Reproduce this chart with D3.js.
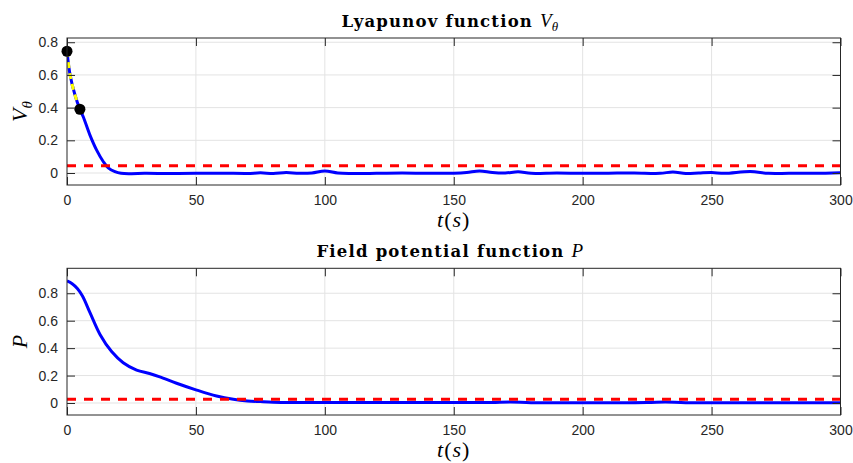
<!DOCTYPE html>
<html>
<head>
<meta charset="utf-8">
<script src="https://cdn.jsdelivr.net/npm/d3@7"></script>
<style>
  body { margin: 0; background: #fff; }
  svg { display: block; }
  .tick text { font-family: "Liberation Sans", Arial, sans-serif; font-size: 14px; fill: #262626; }
</style>
</head>
<body>
<svg id="chart" width="853" height="463"></svg>
<script>
// Lyapunov function V_theta (time in s)
var vTime = [0, 1.2, 3.1, 5, 6.3, 8.9, 11.5, 14.1, 16, 18.6, 21, 25, 30, 40, 50, 60, 70, 75, 80, 85, 90, 95, 100, 105, 110, 120, 130, 140, 150, 155, 160, 165, 170, 175, 180, 190, 200, 210, 220, 230, 235, 240, 245, 250, 255, 265, 272, 280, 290, 300];
var vValue = [0.745, 0.60, 0.477, 0.39, 0.344, 0.232, 0.14, 0.069, 0.032, 0.008, -0.002, -0.004, -0.002, -0.003, -0.002, -0.001, -0.003, 0.001, -0.003, 0.003, -0.002, 0, 0.012, 0, -0.003, -0.002, 0, -0.002, -0.001, 0.003, 0.012, 0.003, 0, 0.007, -0.002, 0, -0.002, -0.001, 0, -0.002, 0.006, -0.003, 0, 0.003, -0.002, 0.009, -0.002, -0.002, -0.002, 0.002];
var vMarked = [0, 5];          // highlighted interval (yellow, black dots)
var vThreshold = 0.045;

// Field potential function P
var pTime = [0, 2, 4, 6, 9, 12.8, 17.3, 21.8, 27, 32, 36, 42.5, 50, 58, 64.5, 70, 75, 80, 90, 100, 130, 160, 165, 172, 180, 200, 225, 232, 240, 270, 300];
var pValue = [0.89, 0.87, 0.835, 0.78, 0.655, 0.5, 0.375, 0.294, 0.24, 0.215, 0.19, 0.144, 0.096, 0.051, 0.027, 0.015, 0.01, 0.006, 0.004, 0.003, 0.003, 0.003, 0.003, 0.008, 0.002, 0.002, 0.003, 0.008, 0.002, 0.002, 0.002];
var pThreshold = 0.027;

var xTicks = [0, 50, 100, 150, 200, 250, 300];
var yTicks = [0, 0.2, 0.4, 0.6, 0.8];

var svg = d3.select("#chart");
svg.append("rect").attr("width", 853).attr("height", 463).attr("fill", "#fff");

function zip(t, v) {
    return t.map(function (d, i) { return { t: d, v: v[i] }; });
}

function panel(opt) {
    var left = 67, right = 840.5;
    var x = d3.scaleLinear().domain([0, 300]).range([left, right]);
    var y = d3.scaleLinear().domain(opt.yDomain).range([opt.bottom, opt.top]);
    var g = svg.append("g");
    var h = opt.bottom - opt.top;

    // grid
    g.append("g").selectAll("line").data(xTicks.slice(1, -1)).enter().append("line")
        .attr("x1", x).attr("x2", x).attr("y1", opt.top).attr("y2", opt.bottom)
        .attr("stroke", "#e3e3e3").attr("stroke-width", 1);
    g.append("g").selectAll("line").data(yTicks).enter().append("line")
        .attr("x1", left).attr("x2", right).attr("y1", y).attr("y2", y)
        .attr("stroke", "#e3e3e3").attr("stroke-width", 1);

    // data
    var data = zip(opt.time, opt.value);
    var line = d3.line().x(function (d) { return x(d.t); }).y(function (d) { return y(d.v); })
        .curve(d3.curveCatmullRom);
    var clip = "clip" + opt.id;
    g.append("clipPath").attr("id", clip).append("rect")
        .attr("x", left).attr("y", opt.top).attr("width", right - left).attr("height", h);
    var plot = g.append("g").attr("clip-path", "url(#" + clip + ")");
    plot.append("path").datum(data).attr("d", line)
        .attr("fill", "none").attr("stroke", "#0000ff").attr("stroke-width", 3);
    plot.append("line")
        .attr("x1", left).attr("x2", right)
        .attr("y1", y(opt.threshold)).attr("y2", y(opt.threshold))
        .attr("stroke", "#ff0000").attr("stroke-width", 3).attr("stroke-dasharray", "9,8");
    if (opt.marked) {
        var seg = data.filter(function (d) { return d.t >= opt.marked[0] && d.t <= opt.marked[1]; });
        plot.append("path").datum(seg).attr("d", line)
            .attr("fill", "none").attr("stroke", "#ffff00").attr("stroke-width", 3)
            .attr("stroke-dasharray", "6,5");
        var ends = [seg[0], seg[seg.length - 1]];
        g.selectAll(".dot").data(ends).enter().append("circle")
            .attr("cx", function (d) { return x(d.t); }).attr("cy", function (d) { return y(d.v); })
            .attr("r", 5.5).attr("fill", "#000");
    }

    // axes (ticks inward, box)
    var ax = g.append("g").attr("transform", "translate(0," + opt.bottom + ")")
        .call(d3.axisBottom(x).tickValues(xTicks).tickSizeInner(-8).tickSizeOuter(0).tickPadding(10));
    var ax2 = g.append("g").attr("transform", "translate(0," + opt.top + ")")
        .call(d3.axisTop(x).tickValues(xTicks).tickSizeInner(-8).tickSizeOuter(0).tickFormat(""));
    var ay = g.append("g").attr("transform", "translate(" + left + ",0)")
        .call(d3.axisLeft(y).tickValues(yTicks).tickSizeInner(-8).tickSizeOuter(0).tickPadding(9)
            .tickFormat(function (d) { return d === 0 ? "0" : d3.format(".1f")(d); }));
    var ay2 = g.append("g").attr("transform", "translate(" + right + ",0)")
        .call(d3.axisRight(y).tickValues(yTicks).tickSizeInner(-8).tickSizeOuter(0).tickFormat(""));
    [ax, ax2, ay, ay2].forEach(function (a) {
        a.select(".domain").remove();
        a.selectAll(".tick line").attr("stroke", "#262626");
    });
    g.append("rect").attr("x", left).attr("y", opt.top).attr("width", right - left).attr("height", h)
        .attr("fill", "none").attr("stroke", "#262626").attr("stroke-width", 1);

    // title
    var title = g.append("text").attr("x", (left + right) / 2 - 4).attr("y", opt.top - 11)
        .attr("text-anchor", "middle")
        .attr("font-family", "'DejaVu Serif', serif")
        .attr("font-size", 16.5).attr("letter-spacing", 1.2).attr("fill", "#000");
    title.append("tspan").attr("font-weight", "bold").text(opt.title + " ");
    title.append("tspan").attr("font-style", "italic").attr("letter-spacing", 0)
        .attr("font-family", "'Liberation Serif', serif").attr("font-size", 19).text(opt.sym);
    if (opt.sub) {
        title.append("tspan").attr("font-style", "italic").attr("letter-spacing", 0)
            .attr("font-family", "'Liberation Serif', serif").attr("font-size", 13).attr("dy", 4).text(opt.sub);
    }

    // x label t(s)
    var xl = g.append("text").attr("x", (left + right) / 2).attr("y", opt.bottom + 42)
        .attr("text-anchor", "middle")
        .attr("font-family", "'Liberation Serif', 'Times New Roman', serif")
        .attr("font-size", 22).attr("letter-spacing", 1).attr("fill", "#000");
    xl.append("tspan").attr("font-style", "italic").text("t");
    xl.append("tspan").text("(");
    xl.append("tspan").attr("font-style", "italic").text("s");
    xl.append("tspan").text(")");

    // y label
    var yl = g.append("text")
        .attr("transform", "translate(27," + ((opt.top + opt.bottom) / 2) + ") rotate(-90)")
        .attr("text-anchor", "middle")
        .attr("font-family", "'Liberation Serif', 'Times New Roman', serif")
        .attr("font-size", 22).attr("fill", "#000");
    yl.append("tspan").attr("font-style", "italic").text(opt.sym);
    if (opt.sub) {
        yl.append("tspan").attr("font-style", "italic").attr("font-size", 15).attr("dy", 5).text(opt.sub);
    }
}

panel({
    id: "v", top: 38, bottom: 185, yDomain: [-0.0734, 0.826],
    time: vTime, value: vValue, threshold: vThreshold, marked: vMarked,
    title: "Lyapunov function", sym: "V", sub: "θ"
});
panel({
    id: "p", top: 268.3, bottom: 415, yDomain: [-0.0875, 0.982],
    time: pTime, value: pValue, threshold: pThreshold,
    title: "Field potential function", sym: "P"
});
</script>
</body>
</html>
